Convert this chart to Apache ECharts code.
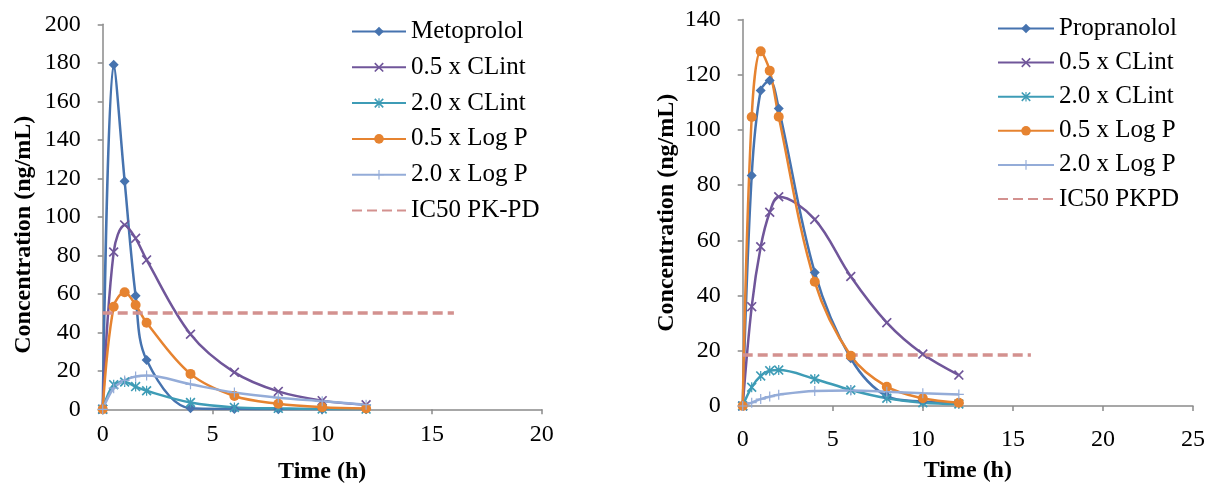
<!DOCTYPE html>
<html>
<head>
<meta charset="utf-8">
<script src="https://cdn.jsdelivr.net/npm/echarts@6/dist/echarts.min.js"></script>
<style>
  html, body { margin: 0; padding: 0; background: #fff; }
  #chart { width: 1209px; height: 483px; }
</style>
</head>
<body>
<div id="chart"></div>
<script>
// Sampling times (h), shared by every simulated profile
const times = [0, 0.5, 1, 1.5, 2, 4, 6, 8, 10, 12];

// Metoprolol panel (ng/mL)
const metoprolol    = [0, 179, 118.5, 59, 25.6, 0.5, 0.1, 0, 0, 0];
const metoClint05   = [0, 81.7, 95.8, 88.8, 77.6, 39, 19.2, 9.3, 4.5, 2.3];
const metoClint20   = [0, 12.8, 14.2, 11.8, 9.6, 3.5, 1, 0.5, 0.2, 0.1];
const metoLogP05    = [0, 53.3, 60.8, 54.2, 45, 18.4, 6.9, 2.9, 1.1, 0.4];
const metoLogP20    = [0, 11, 15, 17, 17.5, 13, 8.7, 6, 4.2, 2.4];
const metoIC50      = 50;

// Propranolol panel (ng/mL)
const propranolol   = [0, 83.5, 114.3, 117.9, 107.8, 48.4, 17.3, 3.6, 1.6, 1];
const propClint05   = [0, 36, 57.7, 70.2, 75.8, 67.6, 46.9, 30.2, 18.8, 11.2];
const propClint20   = [0, 6.8, 10.9, 12.8, 13, 9.8, 5.8, 2.8, 1.2, 0.7];
const propLogP05    = [0, 104.7, 128.5, 121.5, 104.8, 45, 18.2, 7, 2.8, 1.2];
const propLogP20    = [0, 1.2, 2.5, 3.4, 4.1, 5.4, 5.6, 5.2, 4.6, 4.2];
const propIC50      = 18.5;

// Horizontal extent of the IC50 reference lines (h)
const ic50Span = [0, 16];

// Legend labels
const leftNames  = ['Metoprolol', '0.5 x CLint', '2.0 x CLint', '0.5 x Log P', '2.0 x Log P', 'IC50 PK-PD'];
const rightNames = ['Propranolol', '0.5 x CLint', '2.0 x CLint', '0.5 x Log P', '2.0 x Log P', 'IC50 PKPD'];

const FONT = '"Liberation Serif", "Times New Roman", serif';
const COLORS = {
  blue: '#4673AF',
  purple: '#70569A',
  teal: '#3E9CB6',
  orange: '#E68330',
  lightBlue: '#94ACD8',
  pink: '#D3918F'
};
const SMOOTH = 0.35;

// Marker shapes drawn as filled outlines
const SYM_X = 'path://M0,1.2L1.2,0L5,3.8L8.8,0L10,1.2L6.2,5L10,8.8L8.8,10L5,6.2L1.2,10L0,8.8L3.8,5Z';
const SYM_STAR = 'path://M0,1.2L1.2,0L5,3.8L8.8,0L10,1.2L6.2,5L10,8.8L8.8,10L5,6.2L1.2,10L0,8.8L3.8,5Z M4.4,0L5.6,0L5.6,10L4.4,10Z';
const SYM_PLUS = 'path://M4.4,0L5.6,0L5.6,4.4L10,4.4L10,5.6L5.6,5.6L5.6,10L4.4,10L4.4,5.6L0,5.6L0,4.4L4.4,4.4Z';

const pairs = vals => times.map((t, i) => [t, vals[i]]);

function profile(name, vals, color, symbol, size, idx) {
  return {
    name, type: 'line', data: pairs(vals),
    xAxisIndex: idx, yAxisIndex: idx,
    smooth: SMOOTH,
    symbol, symbolSize: size,
    showSymbol: true,
    color,
    lineStyle: { color, width: 2.5 },
    itemStyle: { color },
    emphasis: { disabled: true },
    animation: false
  };
}

function ic50(name, level, idx) {
  return {
    name, type: 'line',
    data: ic50Span.map(t => [t, level]),
    xAxisIndex: idx, yAxisIndex: idx,
    symbol: 'none', showSymbol: false,
    color: COLORS.pink,
    lineStyle: { color: COLORS.pink, width: 3.5, type: [10, 5] },
    emphasis: { disabled: true },
    animation: false
  };
}

function xAxis(idx, max, labelMargin, nameGap) {
  return {
    type: 'value', gridIndex: idx, min: 0, max, interval: 5,
    name: 'Time (h)', nameLocation: 'middle', nameGap,
    nameTextStyle: { fontFamily: FONT, fontSize: 24, fontWeight: 'bold', color: '#000' },
    axisLine: { show: true, onZero: false, lineStyle: { color: '#8a8a8a', width: 1.5 } },
    axisTick: { show: true, length: 5, lineStyle: { color: '#8a8a8a', width: 1.5 } },
    axisLabel: { fontFamily: FONT, fontSize: 24, color: '#000', margin: labelMargin },
    splitLine: { show: false }
  };
}

function yAxis(idx, max, nameGap, namePad) {
  return {
    type: 'value', gridIndex: idx, min: 0, max, interval: 20,
    name: 'Concentration (ng/mL)', nameLocation: 'middle', nameGap,
    nameTextStyle: { fontFamily: FONT, fontSize: 24, fontWeight: 'bold', color: '#000', padding: namePad },
    axisLine: { show: true, lineStyle: { color: '#8a8a8a', width: 1.5 } },
    axisTick: { show: true, length: 5, lineStyle: { color: '#8a8a8a', width: 1.5 } },
    axisLabel: { fontFamily: FONT, fontSize: 24, color: '#000', margin: 22 },
    splitLine: { show: false }
  };
}

// The IC50 entry shows only its dashed stroke, no marker
function legendItems(names) {
  return names.map(n => n.indexOf('IC50') === 0 ? { name: n, itemStyle: { opacity: 0 } } : { name: n });
}

function legend(names, left, top, width, gap) {
  return {
    orient: 'vertical', left, top, padding: 0,
    data: legendItems(names),
    itemWidth: width, itemHeight: 12, itemGap: gap,
    textStyle: { fontFamily: FONT, fontSize: 25, color: '#000', lineHeight: 24 },
    selectedMode: false
  };
}

const chart = echarts.init(document.getElementById('chart'), null, { renderer: 'canvas' });
chart.setOption({
  backgroundColor: '#fff',
  animation: false,
  grid: [
    { left: 102.7, top: 24.3, width: 439, height: 385, containLabel: false, outerBoundsMode: 'none' },
    { left: 742.7, top: 19.6, width: 450.3, height: 386.4, containLabel: false, outerBoundsMode: 'none' }
  ],
  xAxis: [xAxis(0, 20, 13, 50), xAxis(1, 25, 22, 53)],
  yAxis: [yAxis(0, 200, 67, [0, 36, 0, 0]), yAxis(1, 140, 64, [0, 0, 0, 0])],
  legend: [
    legend(leftNames, 351, 19, 54, 10.8),
    legend(rightNames, 997, 16, 56, 9.1)
  ],
  series: [
    profile('Metoprolol', metoprolol, COLORS.blue, 'diamond', 10, 0),
    profile('0.5 x CLint', metoClint05, COLORS.purple, SYM_X, 10, 0),
    profile('2.0 x CLint', metoClint20, COLORS.teal, SYM_STAR, 10, 0),
    profile('0.5 x Log P', metoLogP05, COLORS.orange, 'circle', 10, 0),
    profile('2.0 x Log P', metoLogP20, COLORS.lightBlue, SYM_PLUS, 10, 0),
    ic50('IC50 PK-PD', metoIC50, 0),

    profile('Propranolol', propranolol, COLORS.blue, 'diamond', 10, 1),
    profile('0.5 x CLint', propClint05, COLORS.purple, SYM_X, 10, 1),
    profile('2.0 x CLint', propClint20, COLORS.teal, SYM_STAR, 10, 1),
    profile('0.5 x Log P', propLogP05, COLORS.orange, 'circle', 10, 1),
    profile('2.0 x Log P', propLogP20, COLORS.lightBlue, SYM_PLUS, 10, 1),
    ic50('IC50 PKPD', propIC50, 1)
  ]
});
</script>
</body>
</html>
